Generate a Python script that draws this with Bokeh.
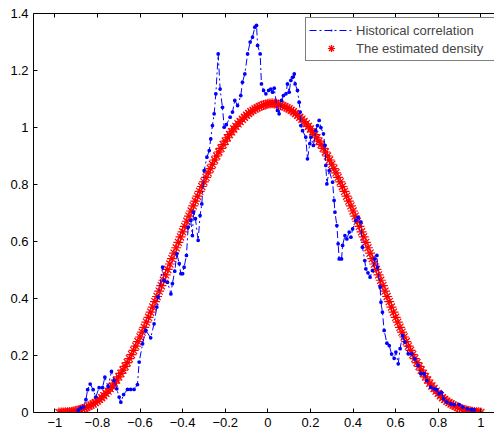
from bokeh.plotting import figure
from bokeh.models import Legend, LegendItem, LinearAxis, FixedTicker, Range1d
from bokeh.embed import file_html
from bokeh.resources import INLINE

# ---- data ----
blue_x = [-0.890, -0.878, -0.865, -0.854, -0.846, -0.834, -0.820, -0.808, -0.792, -0.776,
          -0.765, -0.750, -0.734, -0.722, -0.709, -0.698, -0.690, -0.677, -0.659, -0.644,
          -0.628, -0.612, -0.604, -0.588, -0.573, -0.550, -0.534, -0.521, -0.515, -0.494,
          -0.487, -0.471, -0.455, -0.448, -0.437, -0.427, -0.416, -0.408, -0.400, -0.393,
          -0.382, -0.374, -0.362, -0.354, -0.349, -0.340, -0.327, -0.318, -0.310, -0.299,
          -0.286, -0.275, -0.268, -0.260, -0.252, -0.244, -0.233, -0.224, -0.213, -0.205,
          -0.195, -0.177, -0.166, -0.155, -0.142, -0.127, -0.119, -0.108, -0.095, -0.083,
          -0.072, -0.061, -0.053, -0.048, -0.036, -0.030, -0.020, -0.009, 0.004, 0.014,
          0.022, 0.030, 0.045, 0.053, 0.064, 0.073, 0.085, 0.092, 0.100, 0.108,
          0.116, 0.124, 0.128, 0.139, 0.147, 0.152, 0.155, 0.163, 0.178, 0.186,
          0.197, 0.202, 0.214, 0.225, 0.233, 0.241, 0.249, 0.261, 0.268, 0.272,
          0.277, 0.288, 0.304, 0.311, 0.315, 0.324, 0.330, 0.335, 0.346, 0.351,
          0.362, 0.371, 0.382, 0.390, 0.398, 0.413, 0.424, 0.437, 0.444, 0.455,
          0.460, 0.470, 0.480, 0.491, 0.502, 0.512, 0.515, 0.527, 0.531, 0.538,
          0.546, 0.559, 0.570, 0.581, 0.593, 0.601, 0.612, 0.621, 0.632, 0.643,
          0.659, 0.675, 0.690, 0.706, 0.718, 0.734, 0.746, 0.765, 0.781, 0.792,
          0.804, 0.815, 0.825, 0.840, 0.859, 0.875, 0.898, 0.914, 0.937, 0.955,
          0.968]
blue_y = [0.008, 0.016, 0.020, 0.045, 0.080, 0.100, 0.080, 0.054, 0.087, 0.087,
          0.124, 0.091, 0.144, 0.112, 0.083, 0.054, 0.036, 0.063, 0.081, 0.081,
          0.081, 0.098, 0.177, 0.241, 0.288, 0.262, 0.311, 0.370, 0.405, 0.510,
          0.463, 0.457, 0.416, 0.452, 0.496, 0.557, 0.522, 0.487, 0.487, 0.510,
          0.551, 0.650, 0.674, 0.621, 0.703, 0.680, 0.604, 0.691, 0.732, 0.849,
          0.896, 0.919, 0.960, 1.007, 1.048, 1.118, 1.258, 1.135, 1.071, 1.001,
          1.010, 1.036, 1.054, 1.095, 1.077, 1.112, 1.159, 1.188, 1.258, 1.300,
          1.317, 1.352, 1.358, 1.288, 1.258, 1.153, 1.130, 1.118, 1.130, 1.135,
          1.124, 1.138, 1.060, 1.048, 1.095, 1.112, 1.118, 1.153, 1.124, 1.165,
          1.176, 1.188, 1.153, 1.130, 1.089, 1.054, 1.007, 0.989, 0.966, 0.890,
          0.943, 0.966, 0.937, 0.989, 1.007, 1.025, 1.000, 0.978, 0.937, 0.867,
          0.802, 0.849, 0.808, 0.744, 0.703, 0.656, 0.592, 0.539, 0.539, 0.586,
          0.621, 0.609, 0.633, 0.615, 0.644, 0.674, 0.685, 0.668, 0.580, 0.533,
          0.504, 0.490, 0.475, 0.498, 0.539, 0.551, 0.510, 0.440, 0.387, 0.352,
          0.288, 0.243, 0.235, 0.205, 0.190, 0.212, 0.171, 0.224, 0.270, 0.247,
          0.206, 0.206, 0.188, 0.165, 0.136, 0.136, 0.112, 0.089, 0.083, 0.080,
          0.066, 0.071, 0.048, 0.036, 0.030, 0.028, 0.028, 0.019, 0.013, 0.010,
          0.009]

red_x = [-0.98, -0.97, -0.96, -0.95, -0.94, -0.93, -0.92, -0.91, -0.90, -0.89,
         -0.88, -0.87, -0.86, -0.85, -0.84, -0.83, -0.82, -0.81, -0.80, -0.79,
         -0.78, -0.77, -0.76, -0.75, -0.74, -0.73, -0.72, -0.71, -0.70, -0.69,
         -0.68, -0.67, -0.66, -0.65, -0.64, -0.63, -0.62, -0.61, -0.60, -0.59,
         -0.58, -0.57, -0.56, -0.55, -0.54, -0.53, -0.52, -0.51, -0.50, -0.49,
         -0.48, -0.47, -0.46, -0.45, -0.44, -0.43, -0.42, -0.41, -0.40, -0.39,
         -0.38, -0.37, -0.36, -0.35, -0.34, -0.33, -0.32, -0.31, -0.30, -0.29,
         -0.28, -0.27, -0.26, -0.25, -0.24, -0.23, -0.22, -0.21, -0.20, -0.19,
         -0.18, -0.17, -0.16, -0.15, -0.14, -0.13, -0.12, -0.11, -0.10, -0.09,
         -0.08, -0.07, -0.06, -0.05, -0.04, -0.03, -0.02, -0.01, 0.00, 0.01,
         0.02, 0.03, 0.04, 0.05, 0.06, 0.07, 0.08, 0.09, 0.10, 0.11,
         0.12, 0.13, 0.14, 0.15, 0.16, 0.17, 0.18, 0.19, 0.20, 0.21,
         0.22, 0.23, 0.24, 0.25, 0.26, 0.27, 0.28, 0.29, 0.30, 0.31,
         0.32, 0.33, 0.34, 0.35, 0.36, 0.37, 0.38, 0.39, 0.40, 0.41,
         0.42, 0.43, 0.44, 0.45, 0.46, 0.47, 0.48, 0.49, 0.50, 0.51,
         0.52, 0.53, 0.54, 0.55, 0.56, 0.57, 0.58, 0.59, 0.60, 0.61,
         0.62, 0.63, 0.64, 0.65, 0.66, 0.67, 0.68, 0.69, 0.70, 0.71,
         0.72, 0.73, 0.74, 0.75, 0.76, 0.77, 0.78, 0.79, 0.80, 0.81,
         0.82, 0.83, 0.84, 0.85, 0.86, 0.87, 0.88, 0.89, 0.90, 0.91,
         0.92, 0.93, 0.94, 0.95, 0.96, 0.97, 0.98, 0.99, 1.00]
red_y = [0.000, 0.000, 0.000, 0.001, 0.001, 0.002, 0.003, 0.004, 0.006, 0.008,
         0.010, 0.012, 0.015, 0.018, 0.022, 0.026, 0.030, 0.035, 0.040, 0.046,
         0.052, 0.059, 0.067, 0.075, 0.084, 0.093, 0.103, 0.114, 0.125, 0.137,
         0.149, 0.162, 0.175, 0.189, 0.203, 0.218, 0.233, 0.249, 0.265, 0.282,
         0.299, 0.317, 0.334, 0.352, 0.370, 0.389, 0.407, 0.426, 0.445, 0.464,
         0.483, 0.502, 0.521, 0.540, 0.559, 0.578, 0.597, 0.616, 0.634, 0.653,
         0.671, 0.689, 0.707, 0.725, 0.742, 0.759, 0.776, 0.793, 0.809, 0.825,
         0.841, 0.856, 0.871, 0.886, 0.900, 0.914, 0.927, 0.940, 0.952, 0.964,
         0.975, 0.985, 0.995, 1.004, 1.013, 1.021, 1.029, 1.036, 1.043, 1.049,
         1.055, 1.060, 1.065, 1.069, 1.073, 1.076, 1.079, 1.081, 1.083, 1.084,
         1.085, 1.084, 1.083, 1.081, 1.079, 1.076, 1.073, 1.069, 1.065, 1.060,
         1.055, 1.049, 1.043, 1.036, 1.029, 1.021, 1.013, 1.004, 0.995, 0.985,
         0.975, 0.964, 0.952, 0.940, 0.927, 0.914, 0.900, 0.886, 0.871, 0.856,
         0.841, 0.825, 0.809, 0.793, 0.776, 0.759, 0.742, 0.725, 0.707, 0.689,
         0.671, 0.653, 0.634, 0.616, 0.597, 0.578, 0.559, 0.540, 0.521, 0.502,
         0.483, 0.464, 0.445, 0.426, 0.407, 0.389, 0.370, 0.352, 0.334, 0.317,
         0.299, 0.282, 0.265, 0.249, 0.233, 0.218, 0.203, 0.189, 0.175, 0.162,
         0.149, 0.137, 0.125, 0.114, 0.103, 0.093, 0.084, 0.075, 0.067, 0.059,
         0.052, 0.046, 0.040, 0.035, 0.030, 0.026, 0.022, 0.018, 0.015, 0.012,
         0.010, 0.008, 0.006, 0.004, 0.003, 0.002, 0.001, 0.001, 0.000]

x_ticks = [-1, -0.8, -0.6, -0.4, -0.2, 0, 0.2, 0.4, 0.6, 0.8, 1]
x_tick_labels = ["\u22121", "\u22120.8", "\u22120.6", "\u22120.4", "\u22120.2", "0",
                 "0.2", "0.4", "0.6", "0.8", "1"]
y_ticks = [0, 0.2, 0.4, 0.6, 0.8, 1, 1.2, 1.4]
y_tick_labels = ["0", "0.2", "0.4", "0.6", "0.8", "1", "1.2", "1.4"]
series_labels = ["Historical correlation", "The estimated density"]

FONT = "Liberation Sans"

p = figure(width=494, height=434, output_backend="svg", toolbar_location=None,
           x_range=Range1d(-1.1, 1.064), y_range=Range1d(0, 1.4),
           min_border_left=33, min_border_right=0, min_border_top=13,
           min_border_bottom=22)
p.outline_line_color = None
p.grid.visible = False
p.background_fill_color = "white"
p.border_fill_color = "white"

rs = p.scatter(red_x, red_y, marker="asterisk", size=10, line_color="#ff0000",
               line_width=1.2)
bl = p.line(blue_x, blue_y, line_color="#0000ff", line_width=1, line_dash="7 3 2 3")
bs = p.scatter(blue_x, blue_y, marker="dot", size=15, line_color="#0000ff",
               fill_color="#0000ff")


def style_axis(ax, ticks, labels):
    ax.ticker = FixedTicker(ticks=ticks)
    ax.major_label_overrides = {t: l for t, l in zip(ticks, labels)}
    ax.major_tick_in = 4
    ax.major_tick_out = 0
    ax.minor_tick_line_color = None
    ax.axis_line_color = "black"
    ax.major_tick_line_color = "black"
    ax.major_label_text_font = FONT
    ax.major_label_text_font_size = "13px"
    ax.major_label_text_color = "black"
    ax.major_label_standoff = 5


style_axis(p.xaxis[0], x_ticks, x_tick_labels)
style_axis(p.yaxis[0], y_ticks, y_tick_labels)

# top frame edge with inward ticks, MATLAB style (no labels)
top = LinearAxis(ticker=FixedTicker(ticks=x_ticks), major_tick_in=4, major_tick_out=0,
                 minor_tick_line_color=None, axis_line_color="black",
                 major_label_text_color=None, major_label_text_font_size="1px",
                 major_label_standoff=0)
p.add_layout(top, "above")

legend = Legend(items=[LegendItem(label=series_labels[0], renderers=[bl, bs]),
                       LegendItem(label=series_labels[1], renderers=[rs])],
                location=(272, 351), padding=3, spacing=0, margin=0,
                label_height=18, glyph_height=18, glyph_width=44,
                label_standoff=3, label_width=150,
                border_line_color="black", border_line_width=1,
                label_text_font=FONT, label_text_font_size="13px",
                background_fill_color="white", background_fill_alpha=1)
p.add_layout(legend)

open("out.html", "w").write(file_html(p, INLINE))
